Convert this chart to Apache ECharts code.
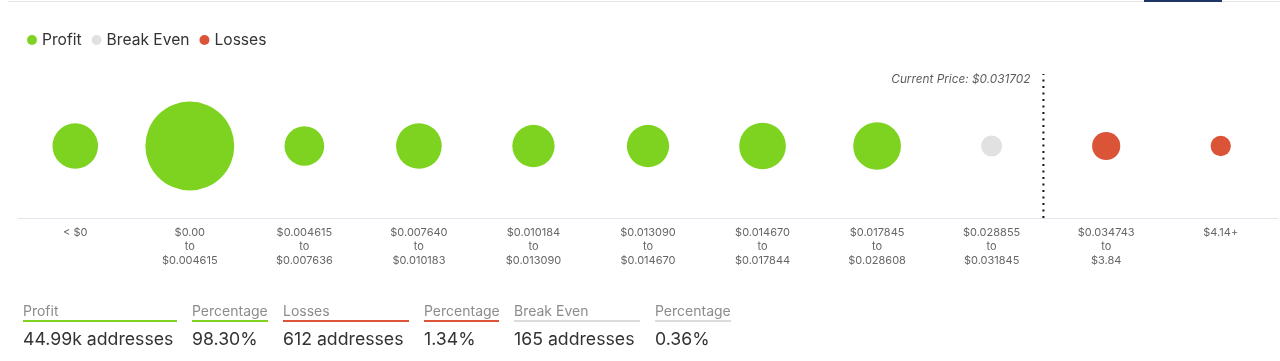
<!DOCTYPE html>
<html>
<head>
<meta charset="utf-8">
<script src="https://cdn.jsdelivr.net/npm/echarts@6/dist/echarts.min.js"></script>
<style>
  html, body { margin: 0; padding: 0; background: #fff; }
  body { width: 1280px; height: 361px; position: relative; overflow: hidden; font-family: Inter, "Noto Sans", sans-serif; }
  #chart { position: absolute; left: 0; top: 0; width: 1280px; height: 361px; }
  .topline { position: absolute; left: 8px; top: 1px; width: 1272px; height: 1px; background: #e4e4e4; }
  .tab { position: absolute; left: 1144px; top: 0; width: 78px; height: 2px; background: #1e3566; }
  .stat { position: absolute; top: 302px; }
  .stat .h { font-size: 14px; color: #8c8c8c; line-height: 18px; border-bottom: 2px solid #ddd; white-space: nowrap; }
  .stat .v { font-size: 17.7px; color: #333; line-height: 22px; margin-top: 6px; white-space: nowrap; }
</style>
</head>
<body>
<div id="chart"></div>
<div class="topline"></div>
<div class="tab"></div>
<div id="stats"></div>
<script>
// ---- data ----
var categories = ['< $0', '$0.00\nto\n$0.004615', '$0.004615\nto\n$0.007636', '$0.007640\nto\n$0.010183',
  '$0.010184\nto\n$0.013090', '$0.013090\nto\n$0.014670', '$0.014670\nto\n$0.017844', '$0.017845\nto\n$0.028608',
  '$0.028855\nto\n$0.031845', '$0.034743\nto\n$3.84', '$4.14+'];
var profitIdx = [0, 1, 2, 3, 4, 5, 6, 7];
var profitAddr = [2600, 28300, 1590, 2620, 1990, 1990, 2840, 3060];
var breakEvenIdx = [8];
var breakEvenAddr = [165];
var lossIdx = [9, 10];
var lossAddr = [468, 144];
var currentPrice = 0.031702;
var priceBinIndex = 8, priceBinLow = 0.028855, priceBinHigh = 0.031845;
var statLabels = ['Profit', 'Percentage', 'Losses', 'Percentage', 'Break Even', 'Percentage'];
var statValues = ['44.99k addresses', '98.30%', '612 addresses', '1.34%', '165 addresses', '0.36%'];

var colors = { profit: '#7ed321', be: '#e1e1e1', loss: '#db5438' };

function pts(idx, vals) { return idx.map(function (c, i) { return [c, 0, vals[i]]; }); }
function size(v) { return 5.04 * Math.pow(v[2], 0.28); }

var pricePos = priceBinIndex + (currentPrice - priceBinLow) / (priceBinHigh - priceBinLow);

var chart = echarts.init(document.getElementById('chart'), null, { renderer: 'canvas' });
var font = 'Inter, "Noto Sans", sans-serif';
chart.setOption({
  animation: false,
  textStyle: { fontFamily: font },
  legend: {
    data: ['Profit', 'Break Even', 'Losses'],
    left: 22, top: 27,
    icon: 'circle', itemWidth: 10, itemHeight: 10, itemGap: 10,
    textStyle: { fontSize: 15.6, color: '#333', fontFamily: font }
  },
  grid: { left: 18, right: 2, top: 74, bottom: 143 },
  xAxis: [{
    type: 'category', data: categories,
    axisLine: { onZero: false, lineStyle: { color: '#e2e5eb', width: 1 } },
    axisTick: { show: false },
    axisLabel: { interval: 0, fontSize: 11, lineHeight: 14, color: '#666', margin: 8, fontFamily: font },
    splitLine: { show: false }
  }, {
    type: 'value', min: 0, max: categories.length, show: false
  }],
  yAxis: { type: 'value', min: -1, max: 1, show: false },
  series: [
    { name: 'Profit', type: 'scatter', data: pts(profitIdx, profitAddr), symbolSize: size, itemStyle: { color: colors.profit, opacity: 1 } },
    { name: 'Break Even', type: 'scatter', data: pts(breakEvenIdx, breakEvenAddr), symbolSize: size, itemStyle: { color: colors.be, opacity: 1 } },
    { name: 'Losses', type: 'scatter', data: pts(lossIdx, lossAddr), symbolSize: size, itemStyle: { color: colors.loss, opacity: 1 } },
    { name: 'price', type: 'line', xAxisIndex: 1, data: [[pricePos, -1], [pricePos, 1]],
      symbol: 'none', lineStyle: { color: '#111', width: 2, type: [2, 4.5] } },
    { name: 'priceLabel', type: 'scatter', xAxisIndex: 1, data: [[pricePos, 1]], symbolSize: 2,
      itemStyle: { color: 'rgba(0,0,0,0)' }, clip: false,
      label: { show: true, position: 'left', distance: 12, offset: [0, 5],
        formatter: 'Current Price: $' + currentPrice.toFixed(6),
        fontSize: 11.8, fontStyle: 'italic', color: '#333', fontFamily: font } }
  ]
});

// stats row
var statLeft = [23, 192, 283, 424, 514, 655];
var statWidth = [154, 76, 126, 75, 126, 76];
var statColor = [colors.profit, colors.profit, colors.loss, colors.loss, '#dcdcdc', '#dcdcdc'];
var html = '';
for (var i = 0; i < statLabels.length; i++) {
  html += '<div class="stat" style="left:' + statLeft[i] + 'px;width:' + statWidth[i] + 'px">' +
    '<div class="h" style="border-bottom-color:' + statColor[i] + '">' + statLabels[i] + '</div>' +
    '<div class="v">' + statValues[i] + '</div></div>';
}
document.getElementById('stats').innerHTML = html;
</script>
</body>
</html>
